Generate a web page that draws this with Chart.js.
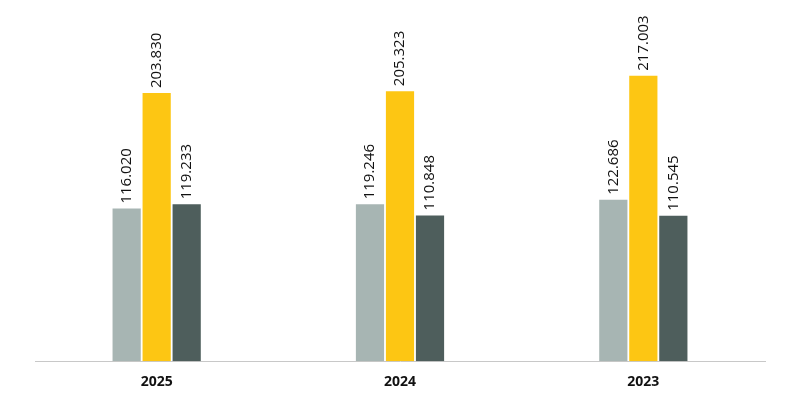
<!DOCTYPE html>
<html>
<head>
<meta charset="utf-8">
<script src="https://cdn.jsdelivr.net/npm/chart.js@4.4.0/dist/chart.umd.min.js"></script>
<style>
  html, body { margin: 0; padding: 0; background: #fff; }
  #wrap { width: 800px; height: 400px; }
</style>
</head>
<body>
<div id="wrap"><canvas id="myChart"></canvas></div>
<script>
// Kategóriák és értékek
const years = ["2025", "2024", "2023"];
const seriesA = [116020, 119246, 122686];
const seriesB = [203830, 205323, 217003];
const seriesC = [119233, 110848, 110545];

const fmt = v => v.toLocaleString('de-DE');

// Függőleges értékcímkék a sávok fölött
const valueLabels = {
    id: 'valueLabels',
    afterDatasetsDraw(chart) {
        const ctx = chart.ctx;
        ctx.save();
        ctx.font = '15px "Open Sans", sans-serif';
        ctx.fillStyle = '#111';
        ctx.textAlign = 'left';
        ctx.textBaseline = 'middle';
        chart.data.datasets.forEach((ds, i) => {
            chart.getDatasetMeta(i).data.forEach((bar, j) => {
                ctx.save();
                ctx.translate(bar.x, bar.y - 5);
                ctx.rotate(-Math.PI / 2);
                ctx.fillText(fmt(ds.data[j]), 0, 0);
                ctx.restore();
            });
        });
        ctx.restore();
    }
};

new Chart(document.getElementById('myChart'), {
    type: 'bar',
    data: {
        labels: years,
        datasets: [
            { data: seriesA, backgroundColor: '#a7b5b3' },
            { data: seriesB, backgroundColor: '#fdc613' },
            { data: seriesC, backgroundColor: '#4e5e5c' }
        ]
    },
    options: {
        responsive: true,
        maintainAspectRatio: false,
        animation: false,
        categoryPercentage: 0.37,
        barPercentage: 0.94,
        layout: { padding: { left: 35, right: 35, top: 10, bottom: 6 } },
        plugins: { legend: { display: false }, tooltip: { enabled: false } },
        scales: {
            x: {
                grid: { display: false },
                border: { display: true, color: '#c8c8c8', width: 1 },
                ticks: { color: '#111', font: { size: 14, weight: 'bold', family: '"Open Sans", sans-serif' }, padding: 4 }
            },
            y: { display: false, min: 0, max: 267000 }
        }
    },
    plugins: [valueLabels]
});
</script>
</body>
</html>
